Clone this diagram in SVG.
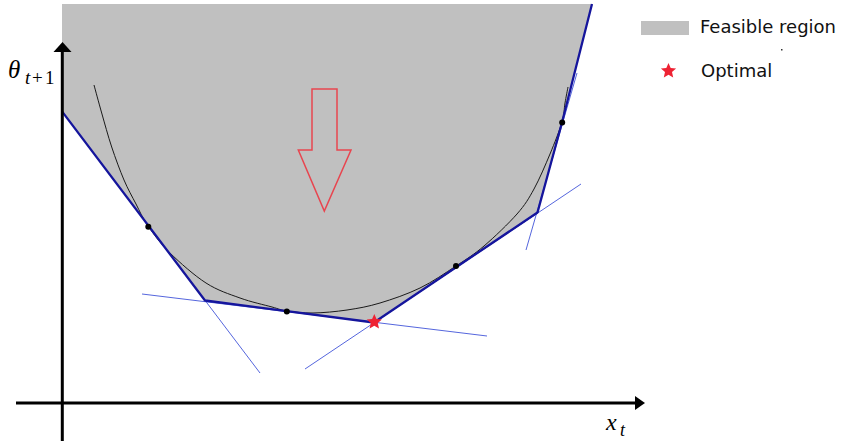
<svg xmlns="http://www.w3.org/2000/svg" width="841" height="446" viewBox="0 0 841 446">
<style>
.region{fill:#c0c0c0;stroke:none}
.cut{stroke:#5566dd;stroke-width:1;fill:none}
.bound{stroke:#15159c;stroke-width:2.3;fill:none;stroke-linejoin:round}
.curve{stroke:#1a1a1a;stroke-width:1;fill:none}
.dot{fill:#000}
.axis{stroke:#000;stroke-width:3;fill:none}
.head{fill:#000}
.star{fill:#ee2233}
.math{font-family:"Liberation Serif",serif;font-style:italic;fill:#000}
.leg{font-family:"DejaVu Sans",sans-serif;font-size:18px;fill:#111}
</style>
<defs>
<polygon id="starShape" points="0,-8 2.2,-3 7.6,-2.5 3.5,1.1 4.7,6.5 0,3.7 -4.7,6.5 -3.5,1.1 -7.6,-2.5 -2.2,-3"/>
</defs>
<rect width="841" height="446" fill="#fff"/>
<g id="feasible-region">
<polygon class="region" points="62,4 592,4 562,122.5 537.5,212.5 374,322.5 205,300.5 62,111.4"/>
</g>
<g id="direction-arrow">
<polygon points="312,89 337,89 337,150 351,150 324.3,211 298.3,150 312,150" fill="none" stroke="#e8454f" stroke-width="1.5"/>
</g>
<g id="connectors">
<line class="cut" x1="62" y1="111.4" x2="260" y2="373"/>
<line class="cut" x1="142" y1="294" x2="487" y2="336"/>
<line class="cut" x1="305" y1="369" x2="581" y2="184"/>
<line class="cut" x1="526" y1="250" x2="577" y2="73"/>
<path class="curve" d="M94,85 C95.28,89.67 98.75,102.67 101.7,113 C104.65,123.33 107.98,135.83 111.7,147 C115.42,158.17 119.95,170.5 124,180 C128.05,189.5 132,196.33 136,204 C140,211.67 142.33,217.83 148,226 C153.67,234.17 160.33,243.5 170,253 C179.67,262.5 194.33,275.5 206,283 C217.67,290.5 229,294 240,298 C251,302 264.17,304.83 272,307 C279.83,309.17 280.17,310 287,311 C293.83,312 303,313.17 313,313 C323,312.83 335.83,311.67 347,310 C358.17,308.33 367.83,306.67 380,303 C392.17,299.33 407.33,294.17 420,288 C432.67,281.83 445.33,273 456,266 C466.67,259 473.83,254.67 484,246 C494.17,237.33 508.67,223.5 517,214 C525.33,204.5 528.5,199 534,189 C539.5,179 545.33,165.17 550,154 C554.67,142.83 559.5,130.5 562,122 C564.5,113.5 564,108.83 565,103 C566,97.17 567.5,89.67 568,87"/>
<polyline class="bound" points="62,111.4 205,300.5 374,322.5 537.5,212.5 562,122.5 592,4"/>
</g>
<g id="tangent-points">
<circle class="dot" cx="148.3" cy="226.7" r="3"/>
<circle class="dot" cx="286.8" cy="311.6" r="3"/>
<circle class="dot" cx="456" cy="266" r="3"/>
<circle class="dot" cx="562.2" cy="122.5" r="3"/>
</g>
<g id="optimal-point">
<use href="#starShape" class="star" transform="translate(374.3,322)"/>
</g>
<g id="axes">
<line class="axis" x1="62.3" y1="441" x2="62.3" y2="50"/>
<polygon class="head" points="62.5,42 71.5,52 53.5,52"/>
<line class="axis" x1="16" y1="403" x2="637" y2="403"/>
<polygon class="head" points="645,403 635,396 635,410"/>
<text class="math" x="8" y="78" font-size="25">θ</text>
<text class="math" y="84" font-size="19"><tspan x="25">t</tspan><tspan x="32" font-style="normal">+</tspan><tspan x="45" font-style="normal">1</tspan></text>
<text class="math" x="606" y="430" font-size="24">x</text>
<text class="math" x="620" y="436" font-size="18">t</text>
</g>
<g id="legend">
<rect x="641" y="21" width="48" height="14" fill="#c0c0c0"/>
<text class="leg" x="700" y="33">Feasible region</text>
<rect x="781" y="49" width="1.5" height="1.5" fill="#333"/>
<use href="#starShape" class="star" transform="translate(668.5,71)"/>
<text class="leg" x="701" y="76.7">Optimal</text>
</g>
</svg>
